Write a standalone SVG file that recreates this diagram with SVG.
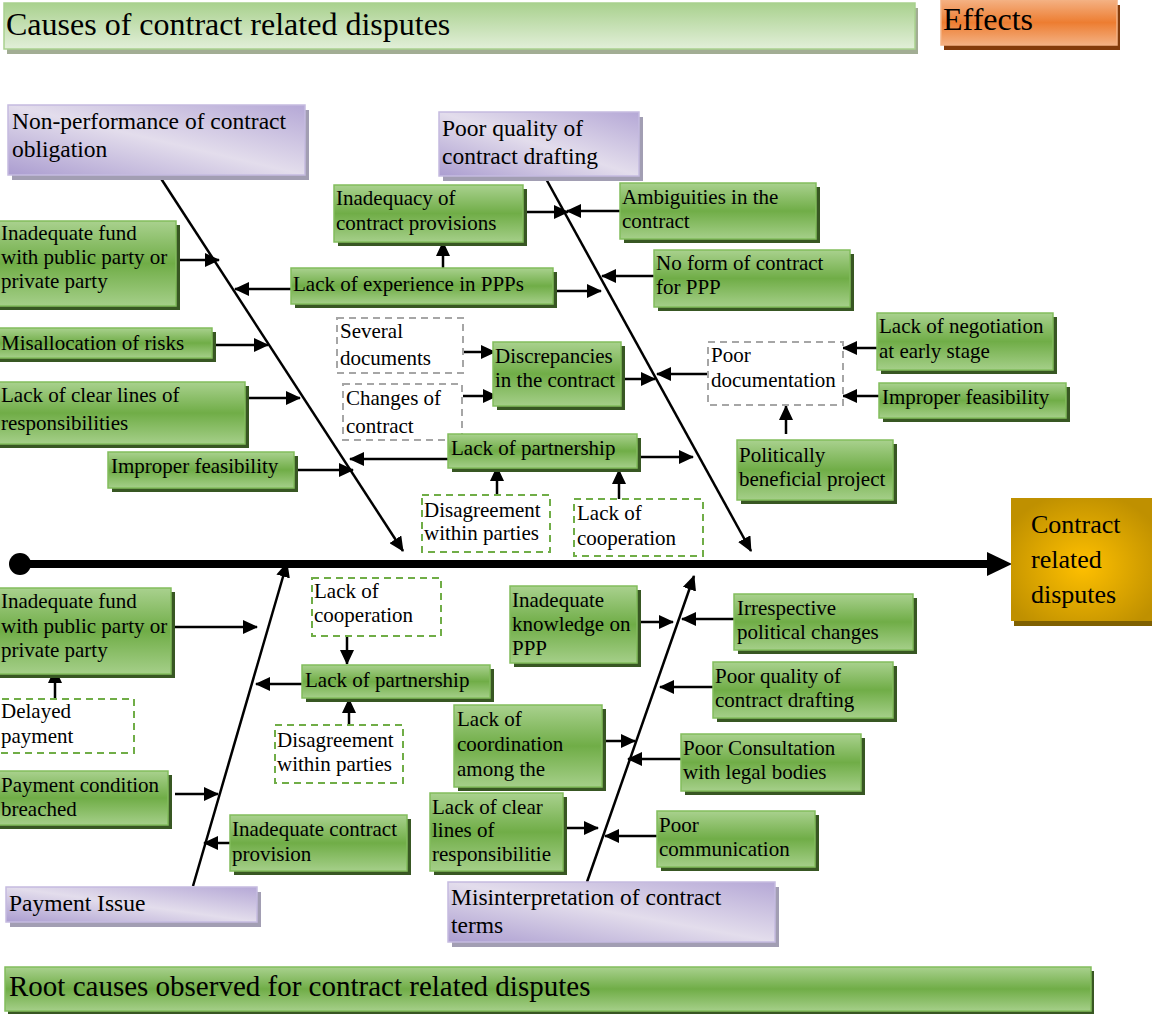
<svg xmlns="http://www.w3.org/2000/svg" width="1152" height="1014" viewBox="0 0 1152 1014">
<defs>
<linearGradient id="gGreen" x1="0" y1="0" x2="0" y2="1">
<stop offset="0" stop-color="#a9d18e"/><stop offset="0.5" stop-color="#70ad47"/><stop offset="1" stop-color="#a5cf89"/>
</linearGradient>
<linearGradient id="gHead" x1="0" y1="0" x2="0" y2="1">
<stop offset="0" stop-color="#a9d18e"/><stop offset="1" stop-color="#e2efd9"/>
</linearGradient>
<linearGradient id="gPurple" x1="0" y1="1" x2="1" y2="0">
<stop offset="0" stop-color="#ab9dd0"/><stop offset="0.5" stop-color="#e3ddec"/><stop offset="1" stop-color="#b5a8d6"/>
</linearGradient>
<linearGradient id="gOrange" x1="0" y1="0" x2="0" y2="1">
<stop offset="0" stop-color="#f4b183"/><stop offset="0.5" stop-color="#ed7d31"/><stop offset="1" stop-color="#f4b183"/>
</linearGradient>
<radialGradient id="gGold" cx="0.5" cy="0.55" r="0.6">
<stop offset="0" stop-color="#ffc000"/><stop offset="1" stop-color="#bf9000"/>
</radialGradient>
<marker id="ah" markerUnits="userSpaceOnUse" markerWidth="16" markerHeight="14" refX="14" refY="7" orient="auto">
<path d="M0,0 L15,7 L0,14 z" fill="#000"/>
</marker>
<style>
text{font-family:"Liberation Serif","Times New Roman",serif;fill:#000}
.t{font-size:21px}
.tp{font-size:23.5px}
.g{fill:url(#gGreen);stroke:#82bd5c;stroke-width:1.5}
.gs{fill:#385723}
.p{fill:url(#gPurple);stroke:#c5bbe0;stroke-width:1.5}
.ps{fill:#a29eb3}
.dg{fill:#fff;stroke:#a6a6a6;stroke-width:2;stroke-dasharray:7 5}
.dgr{fill:#fff;stroke:#70ad47;stroke-width:2;stroke-dasharray:7 5}
.c{fill:none;stroke:#000;stroke-width:2.5;marker-end:url(#ah)}
</style>
</defs>

<g id="header">
<rect x="7" y="8" width="911" height="46" fill="#a2ad94"/>
<rect x="4" y="3" width="911" height="46" fill="url(#gHead)" stroke="#a9d18e" stroke-width="1.5"/>
<text x="6" y="35" style="font-size:32px">Causes of contract related disputes</text>
</g>
<g id="effects">
<rect x="944" y="5" width="176" height="45" fill="#843c0c"/>
<rect x="941" y="0" width="176" height="45" fill="url(#gOrange)" stroke="#f4b183" stroke-width="1.5"/>
<text x="943" y="30" style="font-size:32px">Effects</text>
</g>
<g id="root">
<rect x="8" y="971" width="1086" height="44" fill="#385723"/>
<rect x="5" y="967" width="1086" height="44" class="g"/>
<text x="9" y="996" style="font-size:29px">Root causes observed for contract related disputes</text>
</g>

<g id="connectors">
<line x1="20" y1="564" x2="990" y2="564" stroke="#000" stroke-width="8"/>
<polygon points="987,552 1012,564 987,576" fill="#000"/>
<circle cx="20" cy="564" r="11" fill="#000"/>
<path class="c" d="M160,177 L403,551"/>
<path class="c" d="M545,177 L751,551"/>
<path class="c" d="M193,886 L287,563"/>
<path class="c" d="M587,882 L694,576"/>
<path class="c" d="M176,260 L219,260"/>
<path class="c" d="M291,289 L235,289"/>
<path class="c" d="M443,268 L443,242"/>
<path class="c" d="M553,291 L601,291"/>
<path class="c" d="M523,212 L568,212"/>
<path class="c" d="M620,211 L567,211"/>
<path class="c" d="M654,276 L602,276"/>
<path class="c" d="M213,345 L268,345"/>
<path class="c" d="M245,398 L300,398"/>
<path class="c" d="M297,470 L353,470"/>
<path class="c" d="M448,459 L350,459"/>
<path class="c" d="M637,457 L693,457"/>
<path class="c" d="M497,494 L497,467"/>
<path class="c" d="M619,499 L619,470"/>
<path class="c" d="M463,352 L495,352"/>
<path class="c" d="M463,396 L497,396"/>
<path class="c" d="M621,379 L655,379"/>
<path class="c" d="M708,374 L657,374"/>
<path class="c" d="M877,348 L843,348"/>
<path class="c" d="M879,396 L843,396"/>
<path class="c" d="M786,434 L786,406"/>
<path class="c" d="M171,627 L257,627"/>
<path class="c" d="M55,698 L55,669"/>
<path class="c" d="M175,794 L218,794"/>
<path class="c" d="M230,843 L204,843"/>
<path class="c" d="M347,636 L347,664"/>
<path class="c" d="M302,684 L256,684"/>
<path class="c" d="M349,725 L349,699"/>
<path class="c" d="M637,622 L673,622"/>
<path class="c" d="M734,619 L682,619"/>
<path class="c" d="M713,687 L660,687"/>
<path class="c" d="M602,741 L635,741"/>
<path class="c" d="M681,759 L628,759"/>
<path class="c" d="M563,828 L598,828"/>
<path class="c" d="M657,836 L605,836"/>
</g>

<g id="effect-box">
<rect x="1014" y="504" width="140" height="122" fill="#7f6000"/>
<rect x="1011" y="498" width="143" height="123" fill="url(#gGold)"/>
<text x="1031" y="533" style="font-size:26px">Contract</text>
<text x="1031" y="568" style="font-size:26px">related</text>
<text x="1031" y="603" style="font-size:26px">disputes</text>
</g>

<g id="non-performance">
<rect x="12" y="110" width="297" height="70" class="ps"/>
<rect x="8" y="105" width="297" height="70" class="p"/>
<text class="tp" x="12" y="129">Non-performance of contract</text>
<text class="tp" x="12" y="157">obligation</text>
</g>
<g id="poor-quality">
<rect x="443" y="117" width="200" height="64" class="ps"/>
<rect x="439" y="112" width="200" height="64" class="p"/>
<text class="tp" x="442" y="136">Poor quality of</text>
<text class="tp" x="442" y="164">contract drafting</text>
</g>
<g id="payment-issue">
<rect x="10" y="892" width="251" height="35" class="ps"/>
<rect x="6" y="887" width="251" height="35" class="p"/>
<text class="tp" x="9" y="911">Payment Issue</text>
</g>
<g id="misinterpretation">
<rect x="452" y="887" width="327" height="60" class="ps"/>
<rect x="448" y="882" width="327" height="60" class="p"/>
<text class="tp" x="451" y="905">Misinterpretation of contract</text>
<text class="tp" x="451" y="933">terms</text>
</g>

<g id="inadequate-fund-top">
<rect x="-6" y="225" width="186" height="85" class="gs"/>
<rect x="-10" y="221" width="186" height="85" class="g"/>
<text class="t" x="1" y="240">Inadequate fund</text>
<text class="t" x="1" y="264">with public party or</text>
<text class="t" x="1" y="288">private party</text>
</g>
<g id="lack-experience">
<rect x="295" y="272" width="262" height="36" class="gs"/>
<rect x="291" y="268" width="262" height="36" class="g"/>
<text class="t" x="293" y="291">Lack of experience in PPPs</text>
</g>
<g id="inadequacy-provisions">
<rect x="338" y="189" width="189" height="57" class="gs"/>
<rect x="334" y="185" width="189" height="57" class="g"/>
<text class="t" x="336" y="205">Inadequacy of</text>
<text class="t" x="336" y="230">contract provisions</text>
</g>
<g id="ambiguities">
<rect x="624" y="187" width="196" height="56" class="gs"/>
<rect x="620" y="183" width="196" height="56" class="g"/>
<text class="t" x="622" y="204">Ambiguities in the</text>
<text class="t" x="622" y="228">contract</text>
</g>
<g id="no-form">
<rect x="658" y="254" width="196" height="57" class="gs"/>
<rect x="654" y="250" width="196" height="57" class="g"/>
<text class="t" x="656" y="270">No form of contract</text>
<text class="t" x="656" y="294">for PPP</text>
</g>
<g id="misallocation">
<rect x="-6" y="332" width="222" height="30" class="gs"/>
<rect x="-10" y="328" width="222" height="30" class="g"/>
<text class="t" x="1" y="350">Misallocation of risks</text>
</g>
<g id="lack-clear-lines-top">
<rect x="-6" y="386" width="255" height="62" class="gs"/>
<rect x="-10" y="382" width="255" height="62" class="g"/>
<text class="t" x="1" y="402">Lack of clear lines of</text>
<text class="t" x="1" y="430">responsibilities</text>
</g>
<g id="improper-feasibility-left">
<rect x="112" y="456" width="186" height="36" class="gs"/>
<rect x="108" y="452" width="186" height="36" class="g"/>
<text class="t" x="111" y="473">Improper feasibility</text>
</g>
<g id="several-documents">
<rect x="337" y="318" width="126" height="55" class="dg"/>
<text class="t" x="340" y="338">Several</text>
<text class="t" x="340" y="365">documents</text>
</g>
<g id="changes-contract">
<rect x="343" y="384" width="119" height="56" class="dg"/>
<text class="t" x="346" y="405">Changes of</text>
<text class="t" x="346" y="433">contract</text>
</g>
<g id="discrepancies">
<rect x="497" y="346" width="128" height="64" class="gs"/>
<rect x="493" y="342" width="128" height="64" class="g"/>
<text class="t" x="495" y="363">Discrepancies</text>
<text class="t" x="495" y="387">in the contract</text>
</g>
<g id="lack-partnership-top">
<rect x="452" y="438" width="189" height="34" class="gs"/>
<rect x="448" y="434" width="189" height="34" class="g"/>
<text class="t" x="451" y="455">Lack of partnership</text>
</g>
<g id="disagreement-top">
<rect x="422" y="495" width="128" height="57" class="dgr"/>
<text class="t" x="424" y="517">Disagreement</text>
<text class="t" x="424" y="540">within parties</text>
</g>
<g id="lack-cooperation-top">
<rect x="574" y="499" width="129" height="57" class="dgr"/>
<text class="t" x="577" y="520">Lack of</text>
<text class="t" x="577" y="545">cooperation</text>
</g>
<g id="poor-documentation">
<rect x="708" y="342" width="135" height="63" class="dg"/>
<text class="t" x="711" y="362">Poor</text>
<text class="t" x="711" y="387">documentation</text>
</g>
<g id="lack-negotiation">
<rect x="881" y="317" width="176" height="57" class="gs"/>
<rect x="877" y="313" width="176" height="57" class="g"/>
<text class="t" x="879" y="333">Lack of negotiation</text>
<text class="t" x="879" y="358">at early stage</text>
</g>
<g id="improper-feasibility-right">
<rect x="883" y="387" width="187" height="35" class="gs"/>
<rect x="879" y="383" width="187" height="35" class="g"/>
<text class="t" x="882" y="404">Improper feasibility</text>
</g>
<g id="politically-beneficial">
<rect x="741" y="444" width="156" height="60" class="gs"/>
<rect x="737" y="440" width="156" height="60" class="g"/>
<text class="t" x="739" y="462">Politically</text>
<text class="t" x="739" y="486">beneficial project</text>
</g>

<g id="inadequate-fund-bottom">
<rect x="-6" y="592" width="181" height="86" class="gs"/>
<rect x="-10" y="588" width="181" height="86" class="g"/>
<text class="t" x="1" y="608">Inadequate fund</text>
<text class="t" x="1" y="633">with public party or</text>
<text class="t" x="1" y="657">private party</text>
</g>
<g id="delayed-payment">
<rect x="-10" y="699" width="144" height="54" class="dgr"/>
<text class="t" x="1" y="718">Delayed</text>
<text class="t" x="1" y="743">payment</text>
</g>
<g id="payment-condition">
<rect x="-6" y="775" width="178" height="54" class="gs"/>
<rect x="-10" y="771" width="178" height="54" class="g"/>
<text class="t" x="1" y="792">Payment condition</text>
<text class="t" x="1" y="816">breached</text>
</g>
<g id="inadequate-provision">
<rect x="234" y="819" width="177" height="56" class="gs"/>
<rect x="230" y="815" width="177" height="56" class="g"/>
<text class="t" x="232" y="836">Inadequate contract</text>
<text class="t" x="232" y="861">provision</text>
</g>
<g id="lack-cooperation-bottom">
<rect x="312" y="578" width="129" height="58" class="dgr"/>
<text class="t" x="314" y="598">Lack of</text>
<text class="t" x="314" y="622">cooperation</text>
</g>
<g id="lack-partnership-bottom">
<rect x="306" y="669" width="188" height="33" class="gs"/>
<rect x="302" y="665" width="188" height="33" class="g"/>
<text class="t" x="305" y="687">Lack of partnership</text>
</g>
<g id="disagreement-bottom">
<rect x="275" y="725" width="128" height="58" class="dgr"/>
<text class="t" x="277" y="747">Disagreement</text>
<text class="t" x="277" y="771">within parties</text>
</g>
<g id="inadequate-knowledge">
<rect x="514" y="590" width="127" height="77" class="gs"/>
<rect x="510" y="586" width="127" height="77" class="g"/>
<text class="t" x="512" y="607">Inadequate</text>
<text class="t" x="512" y="631">knowledge on</text>
<text class="t" x="512" y="655">PPP</text>
</g>
<g id="irrespective-political">
<rect x="738" y="598" width="179" height="56" class="gs"/>
<rect x="734" y="594" width="179" height="56" class="g"/>
<text class="t" x="737" y="615">Irrespective</text>
<text class="t" x="737" y="639">political changes</text>
</g>
<g id="poor-quality-bottom">
<rect x="717" y="666" width="180" height="56" class="gs"/>
<rect x="713" y="662" width="180" height="56" class="g"/>
<text class="t" x="715" y="683">Poor quality of</text>
<text class="t" x="715" y="707">contract drafting</text>
</g>
<g id="lack-coordination">
<rect x="458" y="709" width="148" height="82" class="gs"/>
<rect x="454" y="705" width="148" height="82" class="g"/>
<text class="t" x="457" y="726">Lack of</text>
<text class="t" x="457" y="751">coordination</text>
<text class="t" x="457" y="776">among the</text>
</g>
<g id="poor-consultation">
<rect x="685" y="738" width="180" height="57" class="gs"/>
<rect x="681" y="734" width="180" height="57" class="g"/>
<text class="t" x="683" y="755">Poor Consultation</text>
<text class="t" x="683" y="779">with legal bodies</text>
</g>
<g id="lack-clear-lines-bottom">
<rect x="434" y="797" width="133" height="78" class="gs"/>
<rect x="430" y="793" width="133" height="78" class="g"/>
<text class="t" x="432" y="814">Lack of clear</text>
<text class="t" x="432" y="837">lines of</text>
<text class="t" x="432" y="861">responsibilitie</text>
</g>
<g id="poor-communication">
<rect x="661" y="815" width="158" height="56" class="gs"/>
<rect x="657" y="811" width="158" height="56" class="g"/>
<text class="t" x="659" y="832">Poor</text>
<text class="t" x="659" y="856">communication</text>
</g>
</svg>
